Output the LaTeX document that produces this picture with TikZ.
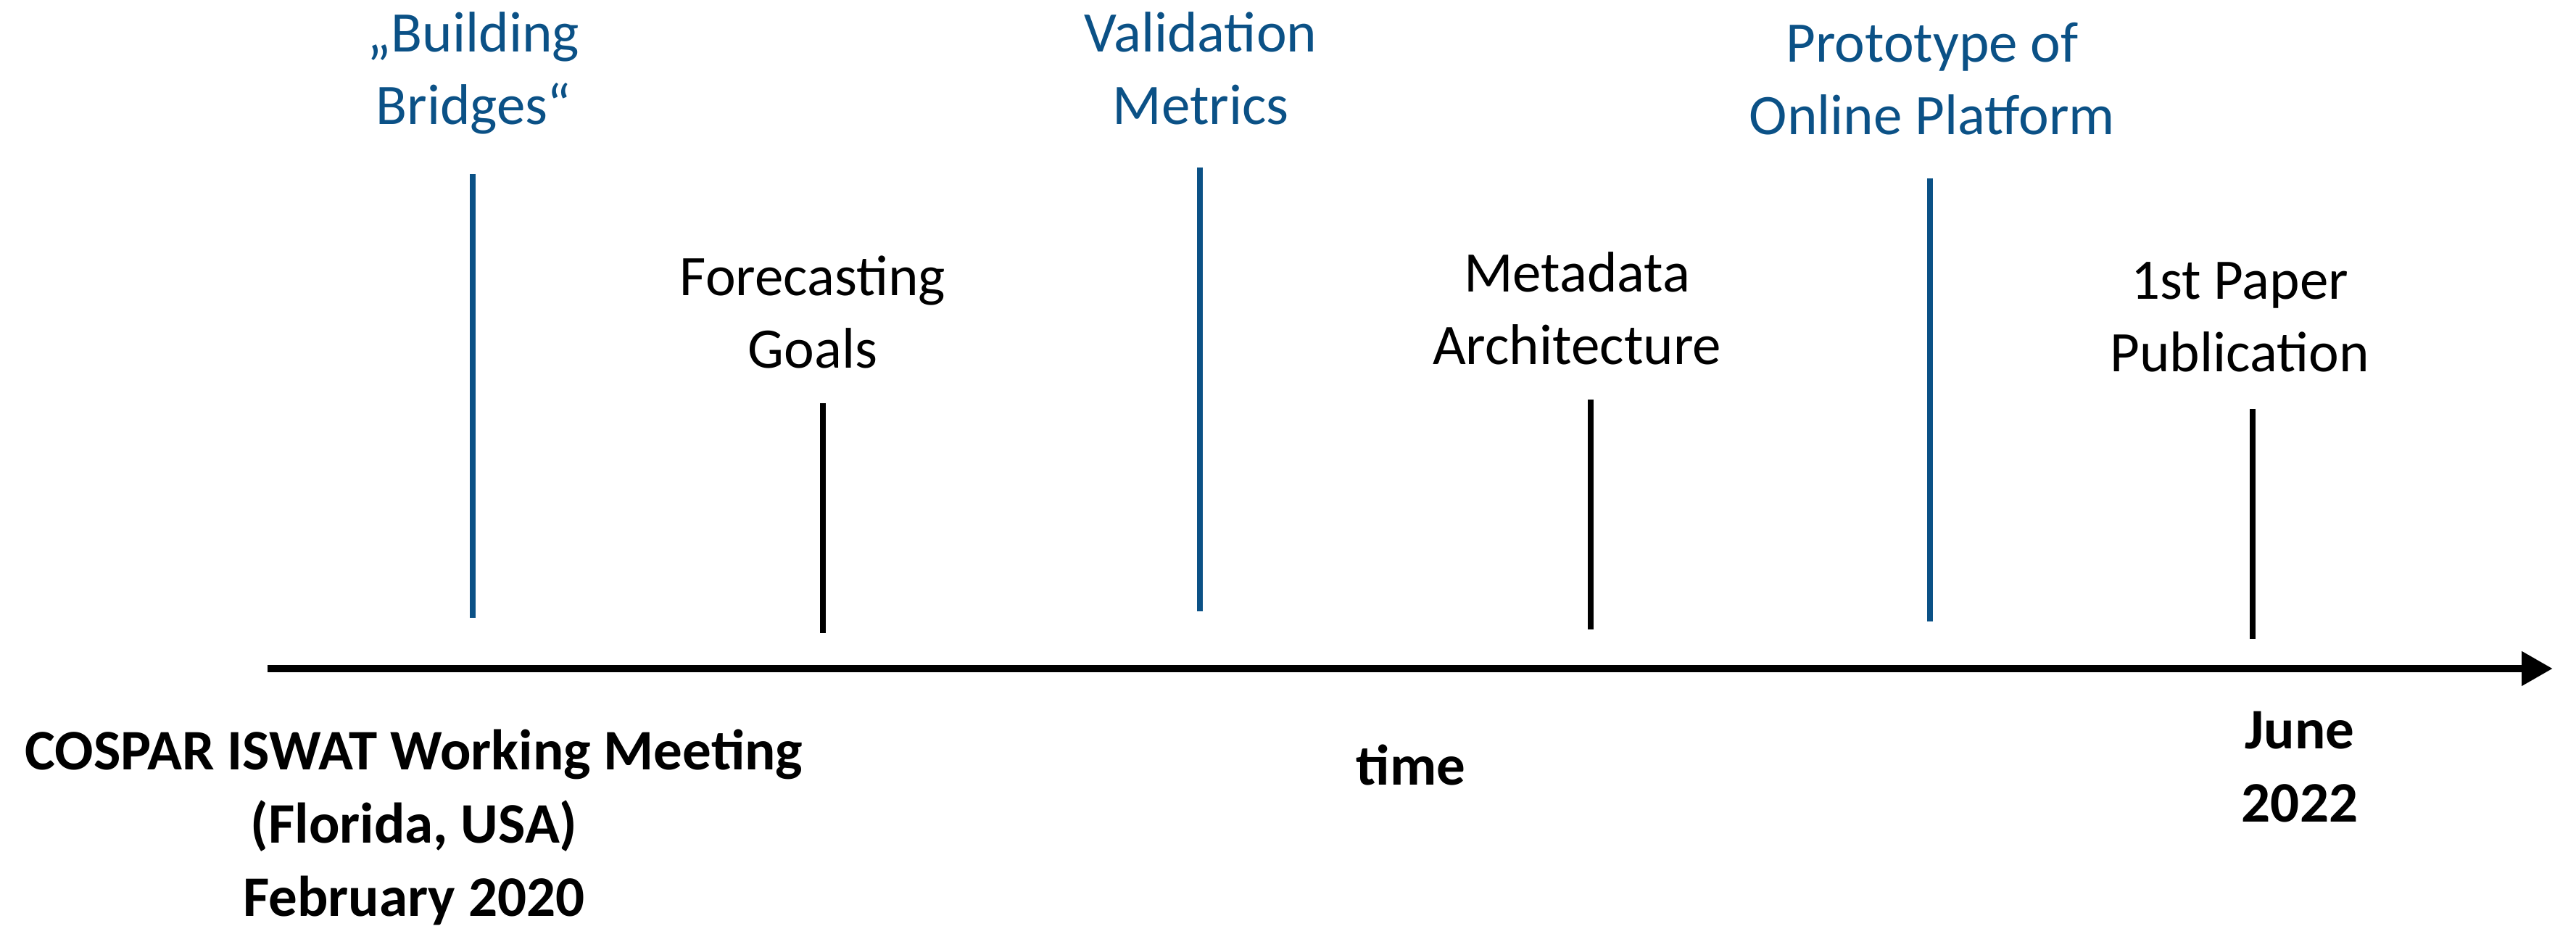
\documentclass[tikz,border=0pt]{standalone}
\usepackage{fontspec}
\setmainfont{Carlito}
\usetikzlibrary{arrows.meta,positioning}
\definecolor{MilestoneBlue}{HTML}{0B5186}

\begin{document}
\begin{tikzpicture}[line cap=butt,
  milestone/.style={align=center,inner sep=0pt,anchor=base,font=\fontsize{22.5}{28.7}\selectfont},
  datelabel/.style={milestone,font=\fontsize{22.5}{28.7}\selectfont\bfseries}]
  \useasboundingbox (0,0) rectangle (35.53,12.87);
  % time axis
  \coordinate (axis-start) at (3.69,3.65);
  \coordinate (axis-end) at (35.21,3.65);
  \draw[line width=3.1pt,-{Triangle[length=0.43cm,width=0.45cm]}] (axis-start) -- (axis-end);
  % ticks: blue ones reach up high, black ones stay short
  \foreach \tick/\x/\ytop/\ybot/\clr in {bridges/6.52/10.47/4.35/MilestoneBlue,goals/11.35/7.31/4.14/black,
      metrics/16.55/10.56/4.44/MilestoneBlue,metadata/21.94/7.36/4.19/black,
      platform/26.62/10.41/4.30/MilestoneBlue,paper/31.07/7.23/4.06/black}{
    \coordinate (\tick-top) at (\x,\ytop);
    \coordinate (\tick-bot) at (\x,\ybot);
    \draw[\clr,line width=2.3pt] (\tick-top) -- (\tick-bot);
  }
  \node[milestone,text=MilestoneBlue] (bridges) at (6.53,11.15) {„Building\\Bridges“};
  \node[milestone] (goals) at (11.21,7.79) {Forecasting\\Goals};
  \node[milestone,text=MilestoneBlue] (metrics) at (16.56,11.15) {Validation\\Metrics};
  \node[milestone] (metadata) at (21.75,7.84) {Metadata\\Architecture};
  \node[milestone,text=MilestoneBlue] (platform) at (26.65,11.01) {Prototype of\\Online Platform};
  \node[milestone] (paper) at (30.89,7.74) {1st Paper\\Publication};
  % labels under the axis
  \node[datelabel] (meeting) at (5.71,0.24) {COSPAR ISWAT Working Meeting\\(Florida, USA)\\February 2020};
  \node[datelabel] (time) at (19.46,2.05) {time};
  \node[datelabel] (june) at (31.72,1.54) {June\\2022};
\end{tikzpicture}
\end{document}
